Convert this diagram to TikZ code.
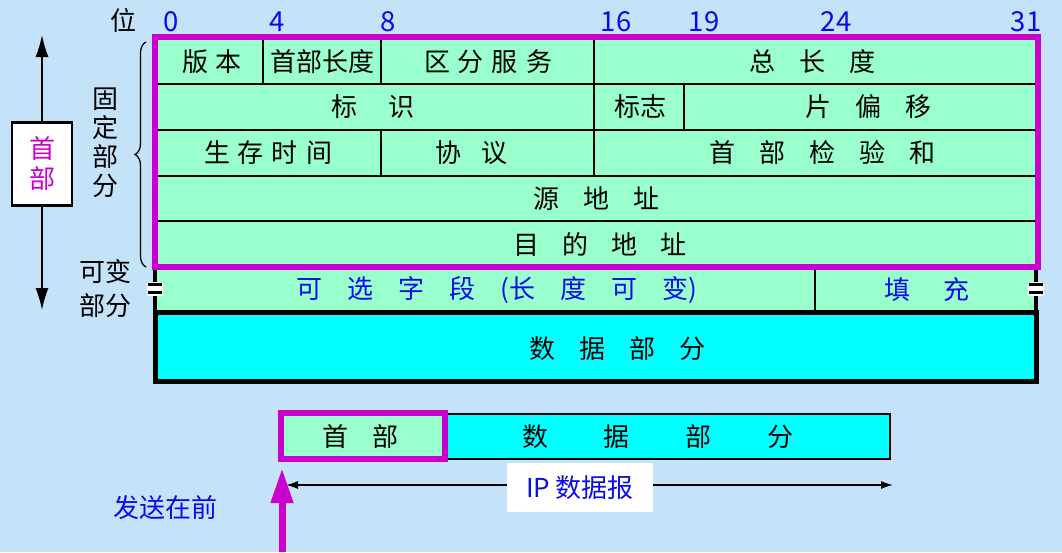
\documentclass[tikz,border=0pt]{standalone}
\usepackage{fontspec}
\setmainfont{Noto Sans CJK SC}
\usetikzlibrary{arrows.meta,decorations.pathreplacing}
\definecolor{bg}{RGB}{196,226,248}
\definecolor{mint}{RGB}{153,255,204}
\definecolor{cyn}{RGB}{0,255,255}
\definecolor{mag}{RGB}{204,0,204}
\definecolor{bluetxt}{RGB}{10,10,235}
\newcommand{\g}[1]{\hspace{#1pt}}
\begin{document}
\begin{tikzpicture}[x=1pt,y=-1pt,
  every node/.style={font=\fontsize{26}{30}\selectfont, inner sep=0pt, outer sep=0pt},
  grid/.style={draw=black, line width=2pt},
  bit/.style={text=bluetxt, font=\fontsize{27.5}{30}\selectfont},
  bluelbl/.style={text=bluetxt},
  brk/.style={fill=white},
  bar/.style={fill=black}]
\fill[bg] (0,0) rectangle (1062,552);
\useasboundingbox (0,0) rectangle (1062,552);

% fixed header table
\fill[mint] (155,37) rectangle (1038,267);
\draw[grid] (155,84) -- (1038,84);
\draw[grid] (155,130) -- (1038,130);
\draw[grid] (155,176) -- (1038,176);
\draw[grid] (155,221) -- (1038,221);
\draw[grid] (263,37) -- (263,84);
\draw[grid] (381,37) -- (381,84);
\draw[grid] (594,37) -- (594,176);
\draw[grid] (684,84) -- (684,130);
\draw[grid] (381,130) -- (381,176);

% optional row
\fill[mint] (155,267) rectangle (1036,312);
\draw[line width=4pt] (155,267) -- (155,312);
\draw[line width=4pt] (1036,267) -- (1036,312);
\draw[grid] (815,267) -- (815,312);
% data part
\draw[line width=5pt, fill=cyn] (155,312) rectangle (1036,381);
% magenta border
\draw[mag, line width=6pt] (155,37) rectangle (1038,267);

% break marks
\foreach \xx in {155,1036}{
  \fill[brk] (\xx-8,282) rectangle (\xx+8,296);
  \fill[bar] (\xx-7,283) rectangle (\xx+7,286);
  \fill[bar] (\xx-7,290.5) rectangle (\xx+7,293.5);
}

% table texts
\node (ver) at (212,62) {版\g{8}本};
\node (hlen) at (322,62) {首部长度};
\node (tos) at (488,62) {区\g{8}分\g{8}服\g{8}务};
\node (tlen) at (812,62) {总\g{24}长\g{24}度};
\node (ident) at (373,107) {标\g{31}识};
\node (flag) at (640,107) {标志};
\node (frag) at (868,107) {片\g{24}偏\g{24}移};
\node (ttl) at (268,153) {生\g{8}存\g{8}时\g{8}间};
\node (proto) at (471,153) {协\g{20}议};
\node (csum) at (822,153) {首\g{24}部\g{24}检\g{24}验\g{24}和};
\node (src) at (596,199) {源\g{24}地\g{24}址};
\node (dst) at (600,244) {目\g{23}的\g{23}地\g{23}址};
\node[bluelbl] (opt) at (497,290) {可\g{25}选\g{25}字\g{25}段\g{25}(长\g{25}度\g{25}可\g{25}变)};
\node[bluelbl] (pad) at (927,290) {填\g{33}充};
\node (data) at (617,349) {数\g{24}据\g{24}部\g{24}分};

% bit positions
\node (wei) at (123,21) {位};
\node[bit] (b0) at (171,22) {0};
\node[bit] (b4) at (277,22) {4};
\node[bit] (b8) at (388,22) {8};
\node[bit] (b16) at (616,22) {16};
\node[bit] (b19) at (704,22) {19};
\node[bit] (b24) at (836,22) {24};
\node[bit] (b31) at (1026,22) {31};

% left labels
\node[align=center, font=\fontsize{26}{29}\selectfont] (fixed) at (105,143) {固\\定\\部\\分};
\draw[decorate, decoration={brace, amplitude=11pt}, line width=1.3pt] (146,267) -- (146,42);
\node[align=center, font=\fontsize{26}{34}\selectfont] (var) at (105,289) {可变\\部分};

% header box with arrows
\node[draw=black, fill=white, line width=2.5pt, minimum width=60pt, minimum height=83pt,
  align=center, text=mag, font=\fontsize{26}{30}\selectfont] (hdr) at (42,164) {首\\部};
\coordinate (up) at (42,35);
\coordinate (dn) at (42,310);
\draw[-{Latex[length=22pt,width=13pt]}, line width=1.5pt] (hdr.north) -- (up);
\draw[-{Latex[length=22pt,width=13pt]}, line width=1.5pt] (hdr.south) -- (dn);

% bottom datagram
\draw[line width=2pt, fill=cyn] (445,413.5) rectangle (890,459);
\node (bdata) at (658,437) {数\g{56}据\g{56}部\g{56}分};
\node[draw=mag, line width=6pt, fill=mint, minimum width=164pt, minimum height=46pt] (bhdr) at (363,436) {};
\node (bhtxt) at (360,437) {首\g{24}部};

\coordinate (dl) at (286,485);
\coordinate (dr) at (893,485);
\draw[{Latex[length=12pt,width=8pt]}-{Latex[length=12pt,width=8pt]}, line width=1.5pt] (dl) -- (dr);
\node[fill=white, minimum width=146pt, minimum height=49pt, bluelbl] (ip) at (580,487.5) {IP 数据报};

\coordinate (ms) at (282,552);
\coordinate (mt) at (282,468);
\draw[-{Triangle[length=35pt,width=21pt]}, mag, line width=7pt] (ms) -- (mt);
\node[bluelbl] (send) at (165,508) {发送在前};
\end{tikzpicture}
\end{document}
